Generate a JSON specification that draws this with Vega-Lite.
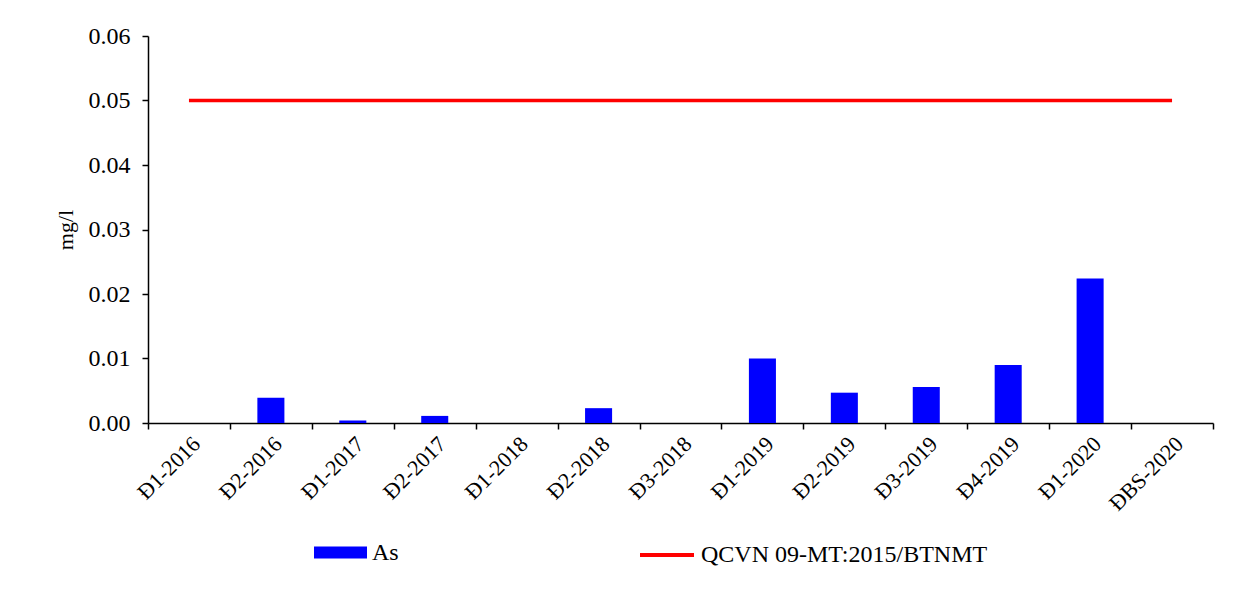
{
  "$schema": "https://vega.github.io/schema/vega-lite/v6.json",
  "autosize": {"type": "none"},
  "padding": {"left": 148, "top": 36, "right": 42, "bottom": 185},
  "width": 1065,
  "height": 387,
  "background": "white",
  "config": {
    "view": {"stroke": null},
    "font": "Liberation Serif",
    "axis": {"labelFont": "Liberation Serif", "titleFont": "Liberation Serif", "labelColor": "black", "titleColor": "black", "domainColor": "black", "tickColor": "black", "grid": false},
    "legend": {"labelFont": "Liberation Serif", "labelColor": "black"}
  },
  "data": {
    "values": [
      {"period": "Đ1-2016", "As": 0, "QCVN": 0.05},
      {"period": "Đ2-2016", "As": 0.0039, "QCVN": 0.05},
      {"period": "Đ1-2017", "As": 0.0004, "QCVN": 0.05},
      {"period": "Đ2-2017", "As": 0.0011, "QCVN": 0.05},
      {"period": "Đ1-2018", "As": 0, "QCVN": 0.05},
      {"period": "Đ2-2018", "As": 0.0023, "QCVN": 0.05},
      {"period": "Đ3-2018", "As": 0, "QCVN": 0.05},
      {"period": "Đ1-2019", "As": 0.0100, "QCVN": 0.05},
      {"period": "Đ2-2019", "As": 0.0047, "QCVN": 0.05},
      {"period": "Đ3-2019", "As": 0.0056, "QCVN": 0.05},
      {"period": "Đ4-2019", "As": 0.0090, "QCVN": 0.05},
      {"period": "Đ1-2020", "As": 0.0224, "QCVN": 0.05},
      {"period": "ĐBS-2020", "As": 0, "QCVN": 0.05}
    ]
  },
  "encoding": {
    "x": {
      "field": "period",
      "type": "nominal",
      "sort": null,
      "scale": {"paddingInner": 0, "paddingOuter": 0},
      "axis": {
        "title": null,
        "labelAngle": -45,
        "labelFontSize": 22,
        "tickBand": "extent",
        "tickSize": 6,
        "labelPadding": 4,
        "domainWidth": 1.5,
        "tickWidth": 1.5
      }
    }
  },
  "layer": [
    {
      "mark": {"type": "bar", "fill": "#0000FF", "width": {"band": 0.33}},
      "encoding": {
        "y": {
          "field": "As",
          "type": "quantitative",
          "scale": {"domain": [0, 0.06], "nice": false},
          "axis": {
            "title": "mg/l",
            "titleFontSize": 22,
            "titleFontWeight": "normal",
            "titlePadding": 11,
            "labelFontSize": 24,
            "format": ".2f",
            "values": [0, 0.01, 0.02, 0.03, 0.04, 0.05, 0.06],
            "tickSize": 6,
            "labelPadding": 12,
            "domainWidth": 1.5,
            "tickWidth": 1.5
          }
        },
        "fill": {
          "datum": "As",
          "type": "nominal",
          "scale": {"domain": ["As"], "range": ["#0000FF"]},
          "legend": {
            "title": null,
            "orient": "none",
            "legendX": 166,
            "legendY": 490,
            "padding": 0,
            "symbolType": "M-1,-0.226H1V0.226H-1Z",
            "symbolSize": 2809,
            "symbolStrokeWidth": 0,
            "labelFontSize": 24,
            "labelOffset": 5,
            "labelLimit": 0
          }
        }
      }
    },
    {
      "mark": {"type": "line", "strokeWidth": 3.5},
      "encoding": {
        "y": {"field": "QCVN", "type": "quantitative"},
        "stroke": {
          "datum": "QCVN 09-MT:2015/BTNMT",
          "type": "nominal",
          "scale": {"domain": ["QCVN 09-MT:2015/BTNMT"], "range": ["#FF0000"]},
          "legend": {
            "title": null,
            "orient": "none",
            "legendX": 490,
            "legendY": 490,
            "padding": 0,
            "symbolType": "stroke",
            "symbolSize": 2916,
            "symbolStrokeWidth": 4,
            "labelFontSize": 24,
            "labelOffset": 5,
            "labelLimit": 0
          }
        }
      }
    }
  ]
}
